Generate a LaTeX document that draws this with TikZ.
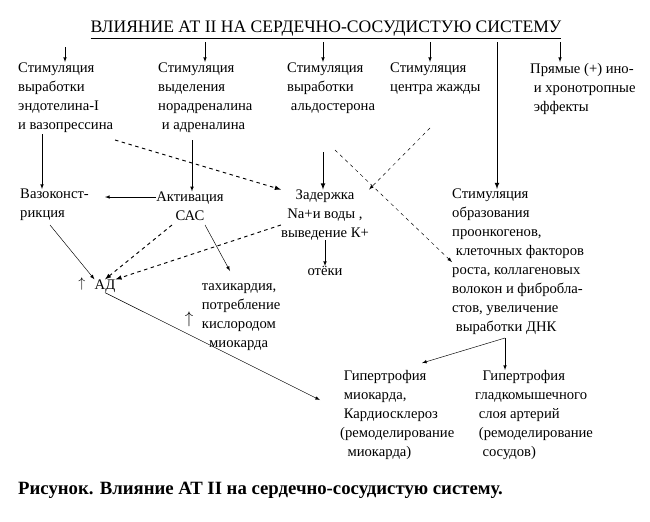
\documentclass[tikz,border=0pt]{standalone}
\usepackage{fontspec}
\setmainfont{Liberation Serif}
\usetikzlibrary{positioning,arrows,calc}
\tikzset{
  txt/.style={align=left, anchor=north west, inner sep=0pt, font=\fontsize{12.5}{16.2}\selectfont},
  ctxt/.style={align=center, inner sep=0pt, font=\fontsize{12.5}{16.2}\selectfont},
  connect/.style={-latex, thin},
  bold/.style={-latex, thick},
  dashlink/.style={-latex, thick, dashed},
  fdash/.style={-latex, thin, dashed}
}
\begin{document}
\begin{tikzpicture}[x=0.03cm,y=-0.03cm]
  \useasboundingbox (0,0) rectangle (650,521);
  \node[ctxt,font=\fontsize{15}{16}\selectfont] (Title) at (326,30) {\underline{ВЛИЯНИЕ АТ II НА СЕРДЕЧНО-СОСУДИСТУЮ СИСТЕМУ}};

  % first row
  \node[txt] (Endo) at (18,63) {Стимуляция\\выработки\\эндотелина-I\\и вазопрессина};
  \node[txt] (Nor) at (158,63) {Стимуляция\\выделения\\норадреналина\\\ и адреналина};
  \node[txt] (Ald) at (287,63) {Стимуляция\\выработки\\\ альдостерона};
  \node[txt] (Thirst) at (390,63) {Стимуляция\\центра жажды};
  \node[txt] (Ino) at (530,63) {Прямые (+) ино-\\\ и хронотропные\\\ эффекты};

  % second row
  \node[txt] (Vaso) at (20,189) {Вазоконст-\\рикция};
  \node[ctxt] (Sas) at (190,206) {Активация\\САС};
  \node[ctxt] (Na) at (325,215) {Задержка\\Na+и воды ,\\выведение К+};
  \node[txt] (Onco) at (452,189) {Стимуляция\\образования\\проонкогенов,\\\ клеточных факторов\\роста, коллагеновых\\волокон и фибробла-\\стов, увеличение\\\ выработки ДНК};

  % third row
  \node[ctxt] (AD) at (105,286) {АД};
  \node[ctxt] (AD_up) at (82,284) {$\uparrow$};
  \node[ctxt] (Oteki) at (325,271) {отёки};
  \node[txt] (Tachy) at (198,283) {\ тахикардия,\\\ потребление\\\ кислородом\\\ \ \ миокарда};
  \node[ctxt,font=\Large] (Tachy_up) at (189,319) {$\uparrow$};

  % fourth row
  \node[txt] (HypM) at (340,370) {\ Гипертрофия\\\ миокарда,\\\ Кардиосклероз\\(ремоделирование\\\ \ миокарда)};
  \node[txt] (HypV) at (475,370) {\ \ Гипертрофия\\гладкомышечного\\\ слоя артерий\\\ (ремоделирование\\\ \ сосудов)};

  \node[txt,font=\fontsize{16}{18}\selectfont\bfseries] (Caption) at (18,482) {Рисунок. Влияние АТ II на сердечно-сосудистую систему.};

  % arrows from the title
  \foreach \x/\t in {65/47,205/42,323/42,430/42,560/42} {
    \draw[connect] (\x,\t) -- (\x,62);
  }
  \coordinate (o1) at (497,42);
  \draw[bold] (o1) -- (Onco.north west -| o1);

  % links
  \draw[connect] (42,134) -- (Vaso.north west -| 42,0);
  \draw[connect] (192,140) -- (Sas.north -| 192,0);
  \draw[dashlink] (115,140) -- (Na.north west);
  \draw[bold] (323,152) -- (Na.north -| 323,0);
  \draw[fdash] (335,150) -- (Onco.west);
  \draw[fdash] (430,128) -- (Na.north east);
  \draw[connect] (Sas.west |- 0,197) -- (105,197);
  \draw[dashlink] (172,225) -- (AD.north);
  \draw[dashlink] (Na.west) ++(0,10) -- (AD.north east);
  \draw[connect] (50,225) -- (AD.north west);
  \draw[connect] (205,225) -- (230,271);
  \draw[connect] (Na.south) -- (Oteki.north);
  \draw[connect] (AD.south) -- (320,400);
  \coordinate (fork) at (505,338);
  \draw[connect] (fork) -- (422,363);
  \draw[connect] (fork) -- (HypV.north -| fork);
\end{tikzpicture}
\end{document}
